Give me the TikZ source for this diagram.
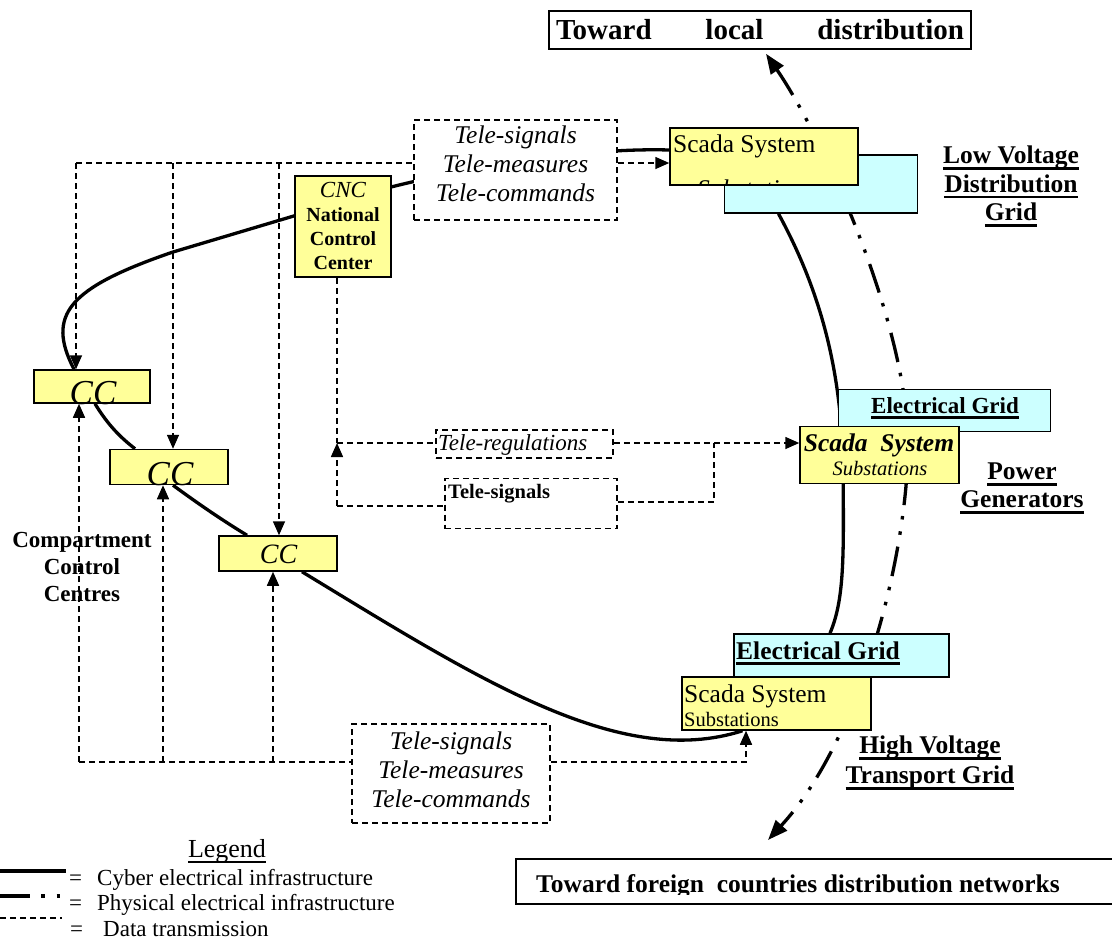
\documentclass[tikz,border=0pt]{standalone}
\usepackage{fontspec}
\setmainfont{Liberation Serif}
\usetikzlibrary{arrows.meta,calc}
\definecolor{scadayellow}{HTML}{FFFF99}
\definecolor{gridcyan}{HTML}{CCFFFF}
% font size helper: size and baseline skip in pt
\newcommand\fsz[2]{\fontsize{#1pt}{#2pt}\selectfont}
% underline with a rule of given depth and thickness
\newcommand\barul[3]{\setbox0\hbox{#3}\rlap{\rule[-#1]{\wd0}{#2}}\box0}
\newcommand\thul[1]{\barul{6pt}{2.8pt}{#1}}
\pgfdeclarelayer{links}
\pgfsetlayers{links,main}

\tikzset{
  cyber/.style={line width=3.3pt},
  physical/.style={line width=3.3pt, dash pattern=on 30pt off 11pt on 3.5pt off 12pt on 3.5pt off 12pt},
  data/.style={line width=1.6pt, dash pattern=on 6pt off 4pt},
  dtip/.style={-{Triangle[length=14pt,width=12pt]}},
  ptips/.style={{Triangle[length=20pt,width=15pt]}-{Triangle[length=20pt,width=15pt]}},
  boxline/.style={draw, line width=1.5pt, inner sep=0pt},
  scadabox/.style={boxline, fill=scadayellow},
  gridbox/.style={boxline, fill=gridcyan},
  telebox/.style={draw, data, fill=white, inner sep=0pt},
  txt/.style={inner sep=0pt},
}

\begin{document}
\begin{tikzpicture}[x=1pt,y=-1pt]
\useasboundingbox (0,0) rectangle (1112,940);

% ---------- destinations ----------
\node[boxline, minimum width=422pt, minimum height=38pt, font=\bfseries\fsz{29}{34}] (local) at (760,30)
  {\makebox[408pt][s]{Toward local distribution}};
\node[boxline, minimum width=600pt, minimum height=45pt, anchor=north west] (foreign) at (515,858) {};
\begin{scope}
  \clip (foreign.north west) rectangle (1112,894);
  \node[txt, anchor=base west, font=\bfseries\fsz{25.5}{30}] (foreigntxt) at (536,892)
    {Toward foreign\ \ countries distribution networks};
\end{scope}

% ---------- low voltage distribution ----------
\node[gridbox, minimum width=193pt, minimum height=58pt] (lvgrid) at (821,184) {};
\node[scadabox, minimum width=188pt, minimum height=57pt] (lvscada) at (764,156.5) {};
\node[txt, anchor=base west, font=\fsz{25.5}{30}] (lvscadatxt) at (673,152) {Scada System};
\begin{scope}
  \clip (lvscada.south west) rectangle (lvscada.north east);
  \node[txt, anchor=base west, font=\itshape\fsz{25.5}{30}] (lvsubtxt) at (697,197) {Substations};
\end{scope}
\node[txt, anchor=north, align=center, font=\bfseries\fsz{25.5}{28.5}] (lvlabel) at (1011,146)
  {\thul{Low Voltage}\\\thul{Distribution}\\\thul{Grid}};

% ---------- national control centre ----------
\node[scadabox, minimum width=96pt, minimum height=101pt] (cnc) at (343,226.5) {};
\node[txt, anchor=north, align=center, font=\bfseries\fsz{20}{24}] (cnctxt) at (343,182.5)
  {{\normalfont\itshape\fsz{23}{24}CNC}\\National\\Control\\Center};

% ---------- telecontrol boxes ----------
\node[telebox, minimum width=203pt, minimum height=100pt] (teletop) at (515.5,170) {};
\node[txt, anchor=north, align=center, font=\itshape\fsz{25.5}{29}] (teletoptxt) at (515.5,125.5)
  {Tele-signals\\Tele-measures\\Tele-commands};
\node[telebox, minimum width=198pt, minimum height=99pt] (telebot) at (451,773.5) {};
\node[txt, anchor=north, align=center, font=\itshape\fsz{25.5}{29}] (telebottxt) at (451,731.6)
  {Tele-signals\\Tele-measures\\Tele-commands};
\node[telebox, minimum width=177pt, minimum height=28pt] (telereg) at (524.5,444) {};
\node[txt, anchor=base west, font=\itshape\fsz{23}{27}] (teleregtxt) at (438,450) {Tele-regulations};
\node[telebox, minimum width=172pt, minimum height=50pt] (telesig) at (531,503.5) {};
\node[txt, anchor=base west, font=\bfseries\fsz{20.5}{24}] (telesigtxt) at (448,498) {Tele-signals};

% ---------- compartment control centres ----------
\node[scadabox, minimum width=116pt, minimum height=33pt] (cc1) at (92,386.5) {};
\node[txt, anchor=base, font=\itshape\fsz{35}{40}] (cc1txt) at (93,404) {CC};
\node[scadabox, minimum width=118pt, minimum height=35pt] (cc2) at (169,467) {};
\node[txt, anchor=base, font=\itshape\fsz{35}{40}] (cc2txt) at (170,485) {CC};
\node[scadabox, minimum width=118pt, minimum height=35pt] (cc3) at (278,553.5) {};
\node[txt, anchor=base, font=\itshape\fsz{28}{32}] (cc3txt) at (278.5,563) {CC};
\node[txt, anchor=north, align=center, font=\bfseries\fsz{23}{27}] (cclabel) at (82,532)
  {Compartment\\Control\\Centres};

% ---------- power generators ----------
\node[gridbox, minimum width=212pt, minimum height=42pt] (pggrid) at (944.5,410.5) {};
\node[txt, anchor=base, font=\bfseries\fsz{23}{27}] (pggridtxt) at (945,413) {\thul{Electrical Grid}};
\node[scadabox, minimum width=159pt, minimum height=57pt] (pgscada) at (879.5,455) {};
\node[txt, anchor=base, font=\bfseries\itshape\fsz{25.5}{30}] (pgscadatxt) at (879,451) {Scada\ \ System};
\node[txt, anchor=base, font=\itshape\fsz{20.5}{24}] (pgsubtxt) at (880,475) {Substations};
\node[txt, anchor=north, align=center, font=\bfseries\fsz{25.5}{28}] (pglabel) at (1022,463)
  {\thul{Power}\\\thul{Generators}};

% ---------- high voltage transport ----------
\node[gridbox, minimum width=215pt, minimum height=43pt] (hvgrid) at (841.5,655.5) {};
\node[txt, anchor=base west, font=\bfseries\fsz{25.5}{30}] (hvgridtxt) at (736,659) {\thul{Electrical Grid}};
\node[scadabox, minimum width=189pt, minimum height=53pt] (hvscada) at (776.5,703.5) {};
\node[txt, anchor=base west, font=\fsz{25.5}{30}] (hvscadatxt) at (684,702) {Scada System};
\node[txt, anchor=base west, font=\fsz{20.5}{24}] (hvsubtxt) at (684,726) {Substations};
\node[txt, anchor=north, align=center, font=\bfseries\fsz{25.5}{30}] (hvlabel) at (930,736)
  {\thul{High Voltage}\\\thul{Transport Grid}};

% ---------- legend ----------
\node[txt, anchor=base, font=\fsz{26}{30}] (legendtitle) at (227,857) {\barul{5.5pt}{1.3pt}{Legend}};
\node[txt, anchor=base west, font=\fsz{23}{27}] (legcyber) at (69,885)
  {\makebox[28pt][l]{=}Cyber electrical infrastructure};
\node[txt, anchor=base west, font=\fsz{23}{27}] (legphys) at (69,910)
  {\makebox[28pt][l]{=}Physical electrical infrastructure};
\node[txt, anchor=base west, font=\fsz{23}{27}] (legdata) at (70,936)
  {\makebox[33pt][l]{=}Data transmission};

% ---------- junctions of the data network ----------
\coordinate (tl) at (76,163);
\coordinate (t2) at (173,163);
\coordinate (t3) at (279,163);
\coordinate (bl) at (79,762);
\coordinate (b2) at (163,762);
\coordinate (b3) at (273,762);
\coordinate (br) at (746,762);
\coordinate (nd) at ($(cnc.south)+(-6,0)$);
\coordinate (rj) at (337,443);
\coordinate (nb) at (337,506);
\coordinate (rk) at (714,443);
\coordinate (rb) at (714,502);
\coordinate (outflow) at (768,840);
\coordinate (lg1a) at (0,871);  \coordinate (lg1b) at (66,871);
\coordinate (lg2a) at (0,896);  \coordinate (lg2b) at (66,896);
\coordinate (lg3a) at (0,918);  \coordinate (lg3b) at (62,918);

\begin{pgfonlayer}{links}
  % cyber electrical infrastructure
  \draw[cyber] ([xshift=-18pt]cc1.north) .. controls (46,315) and (68,288) .. (173,252)
    -- (391,187) .. controls (500,160) and (600,148) .. ([yshift=6.5pt]lvscada.west);
  \draw[cyber] ([xshift=3pt]cc1.south) .. controls (108,425) and (120,437) .. ([xshift=-34pt]cc2.north);
  \draw[cyber] ([xshift=4pt]cc2.south) .. controls (200,505) and (222,520) .. ([xshift=-31pt]cc3.north);
  \draw[cyber] ([xshift=24pt]cc3.south) .. controls (480,680) and (620,770) .. ([xshift=-34pt]hvscada.south);
  \draw[cyber] ([xshift=-42.5pt]lvgrid.south) .. controls (820,290) and (842,370) .. (843,470)
    .. controls (844,560) and (844,600) .. ([xshift=-11.5pt]hvgrid.north);

  % physical electrical infrastructure
  \draw[physical, ptips] ([xshift=6pt,yshift=-4pt]local.south) .. controls (825,140) and (910,330) .. (908,450)
    .. controls (906,560) and (860,740) .. (outflow);

  % data transmission, upper network
  \draw[data] (tl) -- (teletop.west |- tl);
  \draw[data, dtip] (tl) -- (tl |- cc1.north);
  \draw[data, dtip] (t2) -- (t2 |- cc2.north);
  \draw[data, dtip] (t3) -- (t3 |- cc3.north);
  \draw[data, dtip] (teletop.east |- tl) -- (lvscada.west |- tl);

  % data transmission, national centre and substations
  \draw[data] (nd) -- (rj);
  \draw[data, dtip] (nb) -- (rj);
  \draw[data] (nb) -- (nb -| telesig.west);
  \draw[data] (rj) -- (rj -| telereg.west);
  \draw[data, dtip] (telereg.east |- rj) -- (pgscada.west |- rj);
  \draw[data] (rb -| telesig.east) -- (rb) -- (rk);

  % data transmission, lower network
  \draw[data] (bl) -- (bl -| telebot.west);
  \draw[data, dtip] (bl) -- (bl |- cc1.south);
  \draw[data, dtip] (b2) -- (b2 |- cc2.south);
  \draw[data, dtip] (b3) -- (b3 |- cc3.south);
  \draw[data, dtip] (telebot.east |- br) -- (br) -- (br |- hvscada.south);

  % legend samples
  \draw[cyber] (lg1a) -- (lg1b);
  \draw[physical] (lg2a) -- (lg2b);
  \draw[data] (lg3a) -- (lg3b);
\end{pgfonlayer}
\end{tikzpicture}
\end{document}
